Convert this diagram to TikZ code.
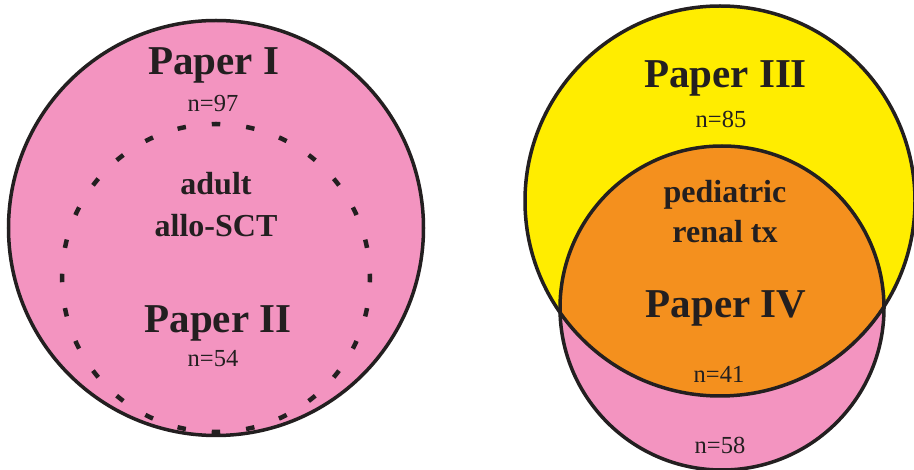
\documentclass[tikz,border=0pt]{standalone}
\usepackage{fontspec}
\setmainfont{Liberation Serif}
\definecolor{pinkfill}{RGB}{243,148,192}
\definecolor{yellowfill}{RGB}{255,237,0}
\definecolor{orangefill}{RGB}{244,144,30}
\definecolor{ink}{RGB}{35,31,32}
\tikzset{
  papertitle/.style={font=\fontsize{41}{41}\selectfont\bfseries, text=ink, anchor=base, inner sep=0pt},
  subject/.style={font=\fontsize{32}{32}\selectfont\bfseries, text=ink, anchor=base, inner sep=0pt},
  ncount/.style={font=\fontsize{24.5}{24.5}\selectfont, text=ink, anchor=base, inner sep=0pt},
  outline/.style={draw=ink, line width=3.5pt},
  subset/.style={draw=ink, line width=4.5pt, dash pattern=on 8.5pt off 26.06pt, dash phase=4.25pt}
}
\begin{document}
\begin{tikzpicture}[x=1pt, y=-1pt]
  \useasboundingbox (0,0) rectangle (914,470);
  \fill[white] (0,0) rectangle (914,470);

  % Papers I and II: adult allo-SCT cohort
  \coordinate (c1) at (216,228);
  \coordinate (c2) at (216,278);
  \fill[pinkfill] (c1) circle (207.5pt);
  \draw[outline] (c1) circle (207.5pt);
  \draw[subset] (c2) circle (154pt);

  % Papers III and IV: pediatric renal tx cohort
  \coordinate (c3) at (720,201);
  \coordinate (c4) at (722,308);
  \fill[yellowfill] (c3) circle (195pt);
  \fill[pinkfill] (c4) circle (162pt);
  \begin{scope}
    \clip (c3) circle (195pt);
    \fill[orangefill] (c4) circle (162pt);
  \end{scope}
  \draw[outline] (c3) circle (195pt);
  \draw[outline] (c4) circle (162pt);

  % labels, left
  \node[papertitle] (p1) at (213.5,75) {Paper I};
  \node[ncount] (n97) at (213,112) {n=97};
  \node[subject] (adult) at (216,195) {adult};
  \node[subject] (allo) at (216,237) {allo-SCT};
  \node[papertitle] (p2) at (218,333) {Paper II};
  \node[ncount] (n54) at (213,367) {n=54};

  % labels, right
  \node[papertitle] (p3) at (725.5,88) {Paper III};
  \node[ncount] (n85) at (721,128) {n=85};
  \node[subject] (ped) at (725,203) {pediatric};
  \node[subject] (renal) at (725,243) {renal tx};
  \node[papertitle] (p4) at (726,318) {Paper IV};
  \node[ncount] (n41) at (719,383) {n=41};
  \node[ncount] (n58) at (720,454) {n=58};
\end{tikzpicture}
\end{document}
